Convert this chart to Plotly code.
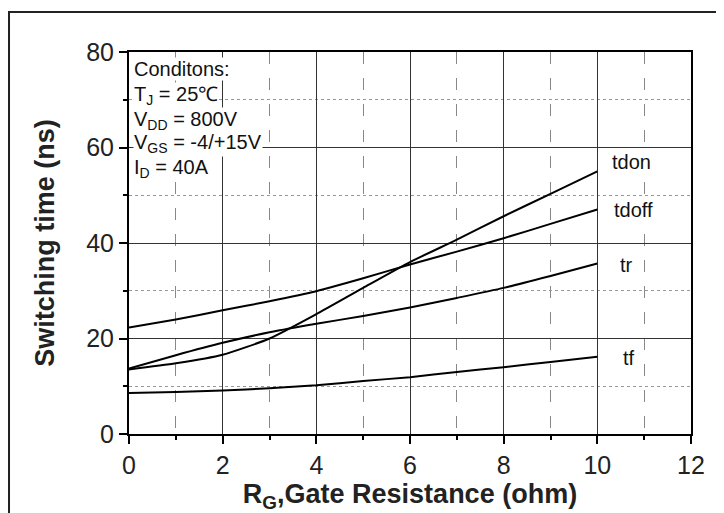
import plotly.graph_objects as go

rg = [0, 1, 2, 3, 4, 5, 6, 7, 8, 9, 10]
tdon = [13.5, 14.8, 16.6, 20.0, 25.1, 30.6, 36.0, 40.7, 45.6, 50.3, 55.0]
tdoff = [22.3, 24.0, 25.9, 27.8, 29.9, 32.6, 35.5, 38.2, 41.0, 44.0, 47.0]
tr = [13.7, 16.5, 19.1, 21.3, 23.1, 24.7, 26.5, 28.5, 30.6, 33.1, 35.7]
tf = [8.6, 8.8, 9.1, 9.6, 10.2, 11.1, 11.9, 13.0, 14.0, 15.1, 16.2]

series_names = ["tdon", "tdoff", "tr", "tf"]
series_vals = [tdon, tdoff, tr, tf]
label_pos = [(10.72, 57.0), (10.78, 46.9), (10.63, 35.4), (10.68, 15.9)]

cond_lines = ["Conditons:", "T<sub>J</sub> = 25\u2103", "V<sub>DD</sub> = 800V",
              "V<sub>GS</sub> = -4/+15V", "I<sub>D</sub> = 40A"]
cond_y = [76.5, 70.8, 65.6, 60.9, 55.6]

FONT = "Arial, Liberation Sans, sans-serif"

fig = go.Figure()
for name, vals in zip(series_names, series_vals):
    fig.add_trace(go.Scatter(x=rg, y=vals, mode="lines", name=name,
                             line=dict(color="black", width=2, shape="spline", smoothing=0.6),
                             showlegend=False))

for name, (lx, ly) in zip(series_names, label_pos):
    fig.add_annotation(x=lx, y=ly, text=name, showarrow=False,
                       font=dict(family=FONT, size=20, color="#111"),
                       bgcolor="white", borderpad=2)

for t, cy in zip(cond_lines, cond_y):
    fig.add_annotation(x=0.09, y=cy, text=t, showarrow=False, xanchor="left",
                       font=dict(family=FONT, size=20, color="#111"),
                       bgcolor="white", borderpad=0)

axis_common = dict(
    showline=True, linecolor="black", linewidth=2, mirror=True,
    ticks="outside", ticklen=8, tickwidth=1.5, tickcolor="black",
    showgrid=True, gridcolor="#333", gridwidth=1,
    zeroline=False,
    tickfont=dict(family=FONT, size=25, color="#222"),
)

fig.update_xaxes(range=[0, 12], dtick=2, tick0=0,
                 minor=dict(dtick=1, ticks="outside", ticklen=4, tickcolor="black",
                            showgrid=True, gridcolor="#888", griddash="12px,14px", gridwidth=1),
                 title=dict(text="<b>R<sub>G</sub>,Gate Resistance (ohm)</b>",
                            font=dict(family=FONT, size=27, color="#222"), standoff=2),
                 **axis_common)
fig.update_yaxes(range=[0, 80], dtick=20, tick0=0,
                 minor=dict(dtick=10, ticks="outside", ticklen=4, tickcolor="black",
                            showgrid=True, gridcolor="#999", griddash="dot", gridwidth=1),
                 title=dict(text="<b>Switching time (ns)</b>",
                            font=dict(family=FONT, size=27, color="#222"), standoff=24),
                 **axis_common)

fig.add_shape(type="rect", xref="paper", yref="paper",
              x0=-0.2135, y0=-0.4, x1=1.3, y1=1.105,
              line=dict(color="#222", width=2), layer="above")

fig.update_layout(width=716, height=505, margin=dict(l=121, r=33, t=44, b=79),
                  plot_bgcolor="white", paper_bgcolor="white")

fig.write_html("out.html")
